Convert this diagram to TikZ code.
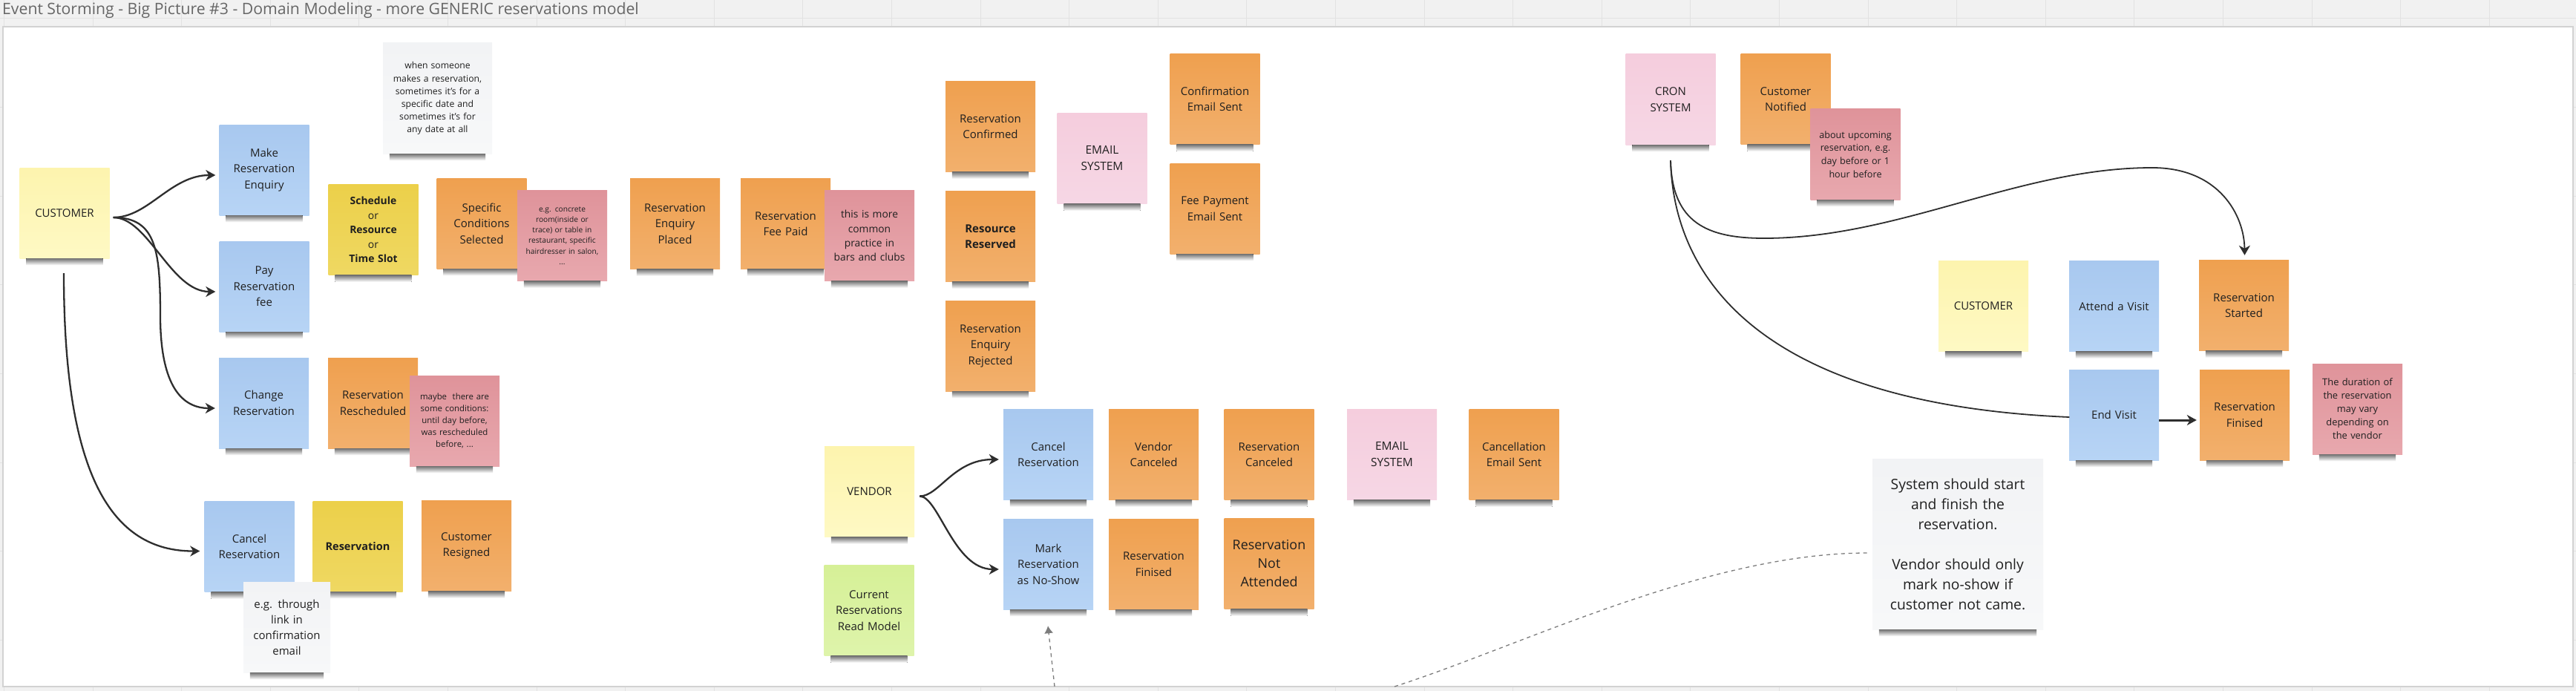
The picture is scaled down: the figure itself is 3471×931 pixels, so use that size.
\documentclass[tikz,border=0pt]{standalone}
\usepackage{fontspec}
\setmainfont{Open Sans}
\usetikzlibrary{arrows.meta}
\definecolor{hdr}{HTML}{F1F1F1}
\definecolor{gridc}{HTML}{E2E2E2}
\definecolor{bord}{HTML}{D2D2D2}
\definecolor{txt}{HTML}{1F1F1F}
\definecolor{ttl}{HTML}{666666}
\definecolor{orgT}{HTML}{EFA04F}
\definecolor{orgB}{HTML}{F2B06D}
\definecolor{bluT}{HTML}{A8C8EF}
\definecolor{bluB}{HTML}{B7D4F5}
\definecolor{lyeT}{HTML}{FDF4AE}
\definecolor{lyeB}{HTML}{FEF9C4}
\definecolor{yelT}{HTML}{ECD04A}
\definecolor{yelB}{HTML}{EFD862}
\definecolor{redT}{HTML}{DF939A}
\definecolor{redB}{HTML}{E8A8AE}
\definecolor{pnkT}{HTML}{F5CDDD}
\definecolor{pnkB}{HTML}{F6D7E5}
\definecolor{grnT}{HTML}{D6F097}
\definecolor{grnB}{HTML}{DEF4AB}
\definecolor{notT}{HTML}{F2F3F5}
\definecolor{notB}{HTML}{F7F8F9}
\definecolor{arrc}{HTML}{2E2E2E}
\definecolor{dashc}{HTML}{7C7C7C}
\newcommand{\fs}[2]{\fontsize{#1}{#2}\selectfont}
\newcommand{\shadowof}[1]{\fill[top color=black!55,bottom color=white,draw=none] ([xshift=9pt]#1.south west) rectangle ([xshift=-9pt,yshift=-9pt]#1.south east);}
\tikzset{
  sticky/.style={minimum width=121pt,minimum height=122pt,inner sep=0pt,text width=113pt,align=center,text=txt,font=\fs{15}{21.5}},
  org/.style={sticky,top color=orgT,bottom color=orgB},
  blu/.style={sticky,top color=bluT,bottom color=bluB},
  lye/.style={sticky,top color=lyeT,bottom color=lyeB},
  yel/.style={sticky,top color=yelT,bottom color=yelB},
  red/.style={sticky,top color=redT,bottom color=redB},
  pnk/.style={sticky,top color=pnkT,bottom color=pnkB},
  grn/.style={sticky,top color=grnT,bottom color=grnB},
  gnote/.style={sticky,top color=notT,bottom color=notB},
  arr/.style={draw=arrc,line width=2.3pt,-{Stealth[length=13pt,width=14pt,inset=4pt]}},
  thinarr/.style={draw=arrc,line width=1.8pt,-{Stealth[length=13pt,width=15pt,inset=4pt]}},
  thinln/.style={draw=arrc,line width=1.8pt},
  dasharr/.style={draw=dashc,line width=1.3pt,dash pattern=on 5pt off 5pt,-{Latex[length=10pt,width=12pt]}},
  dashln/.style={draw=dashc,line width=1.3pt,dash pattern=on 5pt off 5pt},
}
\begin{document}
\begin{tikzpicture}[x=1pt,y=-1pt]
\useasboundingbox (0,0) rectangle (3471,931);
% background grid
\fill[hdr] (0,0) rectangle (3471,931);
\foreach \i in {0,...,29} \draw[gridc,line width=1pt] ({5.4+\i*119.6},0) -- ({5.4+\i*119.6},931);
\foreach \j in {0,...,7} \draw[gridc,line width=1pt] (0,{25+\j*119.6}) -- (3471,{25+\j*119.6});
\fill[white] (4,36) rectangle (3467,925);
\draw[bord,line width=1.2pt] (4,36) rectangle (3467,925);
\node[anchor=west,inner sep=0pt,text=ttl,font=\fs{21.2}{25}] (title) at (3,14) {Event Storming - Big Picture \#3 - Domain Modeling - more GENERIC reservations model};

% ---------- left section
\node[lye] (cust1) at (87,287) {CUSTOMER}; \shadowof{cust1}
\node[blu] (mre) at (356,229) {Make\\Reservation\\Enquiry}; \shadowof{mre}
\node[blu] (prf) at (356,386) {Pay\\Reservation\\fee}; \shadowof{prf}
\node[blu] (chg) at (355.5,543) {Change\\Reservation}; \shadowof{chg}
\node[org] (rsch) at (502.5,543) {Reservation\\Rescheduled}; \shadowof{rsch}
\node[red,font=\fs{11.4}{16}] (maybe) at (612.5,567) {maybe~ there are\\some conditions:\\until day before,\\was rescheduled\\before, ...}; \shadowof{maybe}
\node[blu] (canc1) at (336,736.5) {Cancel\\Reservation}; \shadowof{canc1}
\node[yel,font=\fs{14.5}{20}] (resagg) at (482,736) {\textbf{Reservation}}; \shadowof{resagg}
\node[org] (cres) at (628.5,735.5) {Customer\\Resigned}; \shadowof{cres}
\node[gnote,minimum width=117pt,text width=110pt,font=\fs{15}{21}] (through) at (386.5,845) {e.g. through\\link in\\confirmation\\email}; \shadowof{through}
\node[yel,font=\fs{13.9}{19.4}] (sched) at (503,309.5) {\textbf{Schedule}\\or\\\textbf{Resource}\\or\\\textbf{Time Slot}}; \shadowof{sched}
\node[org] (scs) at (649,301) {Specific\\Conditions\\Selected}; \shadowof{scs}
\node[red,font=\fs{10.2}{14.3}] (concrete) at (757.5,317.5) {e.g. concrete\\room(inside or\\trace) or table in\\restaurant, specific\\hairdresser in salon,\\...}; \shadowof{concrete}
\node[org] (rep) at (909.5,301.5) {Reservation\\Enquiry\\Placed}; \shadowof{rep}
\node[org] (rfp) at (1058.5,301.5) {Reservation\\Fee Paid}; \shadowof{rfp}
\node[red,font=\fs{13.8}{19.3}] (common) at (1171.5,317.5) {this is more\\common\\practice in\\bars and clubs}; \shadowof{common}
\node[gnote,minimum width=147pt,minimum height=149pt,text width=140pt,font=\fs{12.2}{17.1}] (whennote) at (589.5,132.5) {when someone\\makes a reservation,\\sometimes it's for a\\specific date and\\sometimes it's for\\any date at all}; \shadowof{whennote}

% ---------- middle section
\node[org] (rconf) at (1334.5,170.5) {Reservation\\Confirmed}; \shadowof{rconf}
\node[org] (rres) at (1334.5,318.5) {\textbf{Resource}\\\textbf{Reserved}}; \shadowof{rres}
\node[org] (rrej) at (1334.5,466) {Reservation\\Enquiry\\Rejected}; \shadowof{rrej}
\node[pnk,font=\fs{15.5}{22}] (email1) at (1485,213.5) {EMAIL\\SYSTEM}; \shadowof{email1}
\node[org] (ces) at (1637,133.5) {Confirmation\\Email Sent}; \shadowof{ces}
\node[org] (fpes) at (1637,281) {Fee Payment\\Email Sent}; \shadowof{fpes}

% ---------- vendor section
\node[lye] (vendor) at (1171.5,662.5) {VENDOR}; \shadowof{vendor}
\node[grn] (readmodel) at (1171,822.5) {Current\\Reservations\\Read Model}; \shadowof{readmodel}
\node[blu] (canc2) at (1412.5,612.5) {Cancel\\Reservation}; \shadowof{canc2}
\node[org] (vcanc) at (1554.5,612.5) {Vendor\\Canceled}; \shadowof{vcanc}
\node[org] (rcanc) at (1710,612.5) {Reservation\\Canceled}; \shadowof{rcanc}
\node[pnk,font=\fs{15.5}{22}] (email2) at (1875.5,612.5) {EMAIL\\SYSTEM}; \shadowof{email2}
\node[org] (cancmail) at (2040,612.5) {Cancellation\\Email Sent}; \shadowof{cancmail}
\node[blu] (noshow) at (1412.5,760) {Mark\\Reservation\\as No-Show}; \shadowof{noshow}
\node[org] (rfin1) at (1554.5,760) {Reservation\\Finised}; \shadowof{rfin1}
\node[org,font=\fs{17.9}{25}] (rna) at (1710,759.5) {Reservation\\Not\\Attended}; \shadowof{rna}

% ---------- right section
\node[pnk] (cron) at (2251,134) {CRON\\SYSTEM}; \shadowof{cron}
\node[org] (cnot) at (2406,133.5) {Customer\\Notified}; \shadowof{cnot}
\node[red,font=\fs{12.6}{17.7}] (upcoming) at (2500,208) {about upcoming\\reservation, e.g.\\day before or 1\\hour before}; \shadowof{upcoming}
\node[lye] (cust2) at (2672.5,412.5) {CUSTOMER}; \shadowof{cust2}
\node[blu] (attend) at (2848.5,412.5) {Attend a Visit}; \shadowof{attend}
\node[org] (rstart) at (3023.5,411.5) {Reservation\\Started}; \shadowof{rstart}
\node[blu] (endv) at (2848.5,559) {End Visit}; \shadowof{endv}
\node[org] (rfin2) at (3024.5,559) {Reservation\\Finised}; \shadowof{rfin2}
\node[red,font=\fs{12.9}{18}] (duration) at (3176.5,551) {The duration of\\the reservation\\may vary\\depending on\\the vendor}; \shadowof{duration}
\node[gnote,minimum width=230pt,minimum height=230pt,text width=220pt,font=\fs{19.3}{27}] (sysnote) at (2638,733) {System should start\\and finish the\\reservation.\\\mbox{}\\Vendor should only\\mark no-show if\\customer not came.}; \shadowof{sysnote}

% ---------- connectors
\coordinate (cs) at ([shift={(5,6)}]cust1.east);
\draw[arr] (cs) .. controls (200,293) and (230,236) .. ([shift={(-5,7)}]mre.west);
\draw[arr] (cs) .. controls (200,293) and (230,393) .. ([shift={(-5,7)}]prf.west);
\draw[arr] (cs) .. controls (212,293) and (216,340) .. (216,430) .. controls (217,520) and (245,550) .. ([shift={(-5,7)}]chg.west);
\draw[arr] ([shift={(-1,20)}]cust1.south) .. controls (86,640) and (150,743) .. ([shift={(-6,6)}]canc1.west);

\coordinate (vs) at ([shift={(7,6)}]vendor.east);
\draw[arr] (vs) .. controls (1265,669) and (1285,619) .. ([shift={(-6,6.5)}]canc2.west);
\draw[arr] (vs) .. controls (1265,669) and (1285,767) .. ([shift={(-6,7)}]noshow.west);

\coordinate (cr) at ([shift={(0,21)}]cron.south);
\draw[thinarr] (cr) .. controls (2253,300) and (2300,321) .. (2377,321) .. controls (2560,321) and (2720,226) .. (2900,226) .. controls (2990,226) and (3024,290) .. ([shift={(1,-6.5)}]rstart.north);
\draw[thinln] (cr) .. controls (2255,380) and (2380,545) .. ([shift={(0.5,3)}]endv.west);
\draw[arr,line width=3pt] ([shift={(0,7)}]endv.east) -- ([shift={(-4,7)}]rfin2.west);

\coordinate (b1) at (1421,925);
\draw[dasharr] (b1) -- ([shift={(-0.5,22)}]noshow.south);
\coordinate (b2) at (1879,925);
\draw[dashln] (b2) .. controls (2050,870) and (2300,745) .. ([shift={(-6.5,12)}]sysnote.west);
\end{tikzpicture}
\end{document}
